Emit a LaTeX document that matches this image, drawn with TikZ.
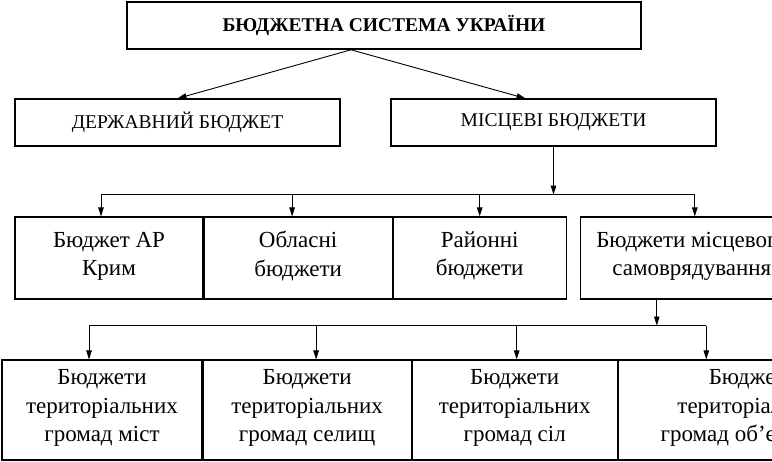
\documentclass[tikz,border=0pt]{standalone}
\usepackage{fontspec}
\setmainfont{Liberation Serif}
\usepackage{tikz}
\usetikzlibrary{positioning}
\usetikzlibrary{calc,arrows.meta}

\tikzset{
    box/.style={draw, line width=1.1pt, inner sep=0pt, align=center},
    bigtext/.style={font=\fontsize{23}{28.5}\selectfont,
        execute at begin node={\strut}, execute at end node={\strut}},
    captext/.style={font=\fontsize{19.5}{22}\selectfont},
    arr/.style={line width=0.9pt, -{Triangle[length=9pt,width=5.5pt]}},
    bus/.style={line width=0.9pt},
}

\begin{document}
\begin{tikzpicture}[x=1pt,y=-1pt]
    \useasboundingbox (0,0) rectangle (772,462);
    \clip (0,0) rectangle (772,462);

    % Draw top levels
    \node[box, line width=1.6pt, minimum width=514pt, minimum height=47pt,
          font=\fontsize{19.5}{22}\selectfont\bfseries] (sys) at (384,25.5) {БЮДЖЕТНА СИСТЕМА УКРАЇНИ};
    \node[box, captext, minimum width=325pt, minimum height=47pt] (db) at (177.5,122.5) {ДЕРЖАВНИЙ БЮДЖЕТ};
    \node[box, captext, minimum width=325pt, minimum height=47pt] (mb) at (553.5,122.5) {МІСЦЕВІ БЮДЖЕТИ};

    \draw[arr] ([xshift=-33pt]sys.south) -- (db.north);
    \draw[arr] ([xshift=-33pt]sys.south) -- ([xshift=-28pt]mb.north);

    % Draw local budgets
    \node[box, bigtext, minimum width=188pt, minimum height=82pt] (a3) at (109,258) {Бюджет АР\\Крим};
    \node[box, bigtext, minimum width=188pt, minimum height=82pt, right=0pt of a3] (b3) {Обласні\\бюджети};
    \node[box, bigtext, minimum width=173pt, minimum height=82pt, right=0pt of b3] (c3) {Районні\\бюджети};
    \node[box, bigtext, minimum width=223pt, minimum height=82pt, right=13pt of c3] (d3) {Бюджети місцевого\\самоврядування};

    \coordinate (bus1) at ([yshift=-48pt]mb.south);
    \draw[arr] (mb.south) -- (bus1);
    \draw[bus] ([xshift=-8pt]a3.north |- bus1) -- ([xshift=3pt]d3.north |- bus1);
    \foreach \n/\dx in {a3/-8,b3/-6,c3/0,d3/3}
        \draw[arr] ([xshift=\dx pt]\n.north |- bus1) -- ([xshift=\dx pt]\n.north);

    % Draw community budgets
    \node[box, bigtext, minimum width=200pt, minimum height=100pt] (a4) at (102,410) {Бюджети\\територіальних\\громад міст};
    \node[box, bigtext, minimum width=208pt, minimum height=100pt, right=0pt of a4] (b4) {Бюджети\\територіальних\\громад селищ};
    \node[box, bigtext, minimum width=205pt, minimum height=100pt, right=0pt of b4] (c4) {Бюджети\\територіальних\\громад сіл};
    \node[box, bigtext, minimum width=270pt, minimum height=100pt, right=0pt of c4] (d4) {Бюджети\\територіальних\\громад об’єднаних};

    \coordinate (bus2) at ([xshift=-35pt,yshift=-26pt]d3.south);
    \draw[arr] ([xshift=-35pt]d3.south) -- (bus2);
    \draw[bus] ([xshift=-13pt]a4.north |- bus2) -- ([xshift=-47pt]d4.north |- bus2);
    \foreach \n/\dx in {a4/-13,b4/9,c4/2,d4/-47}
        \draw[arr] ([xshift=\dx pt]\n.north |- bus2) -- ([xshift=\dx pt]\n.north);
\end{tikzpicture}
\end{document}
